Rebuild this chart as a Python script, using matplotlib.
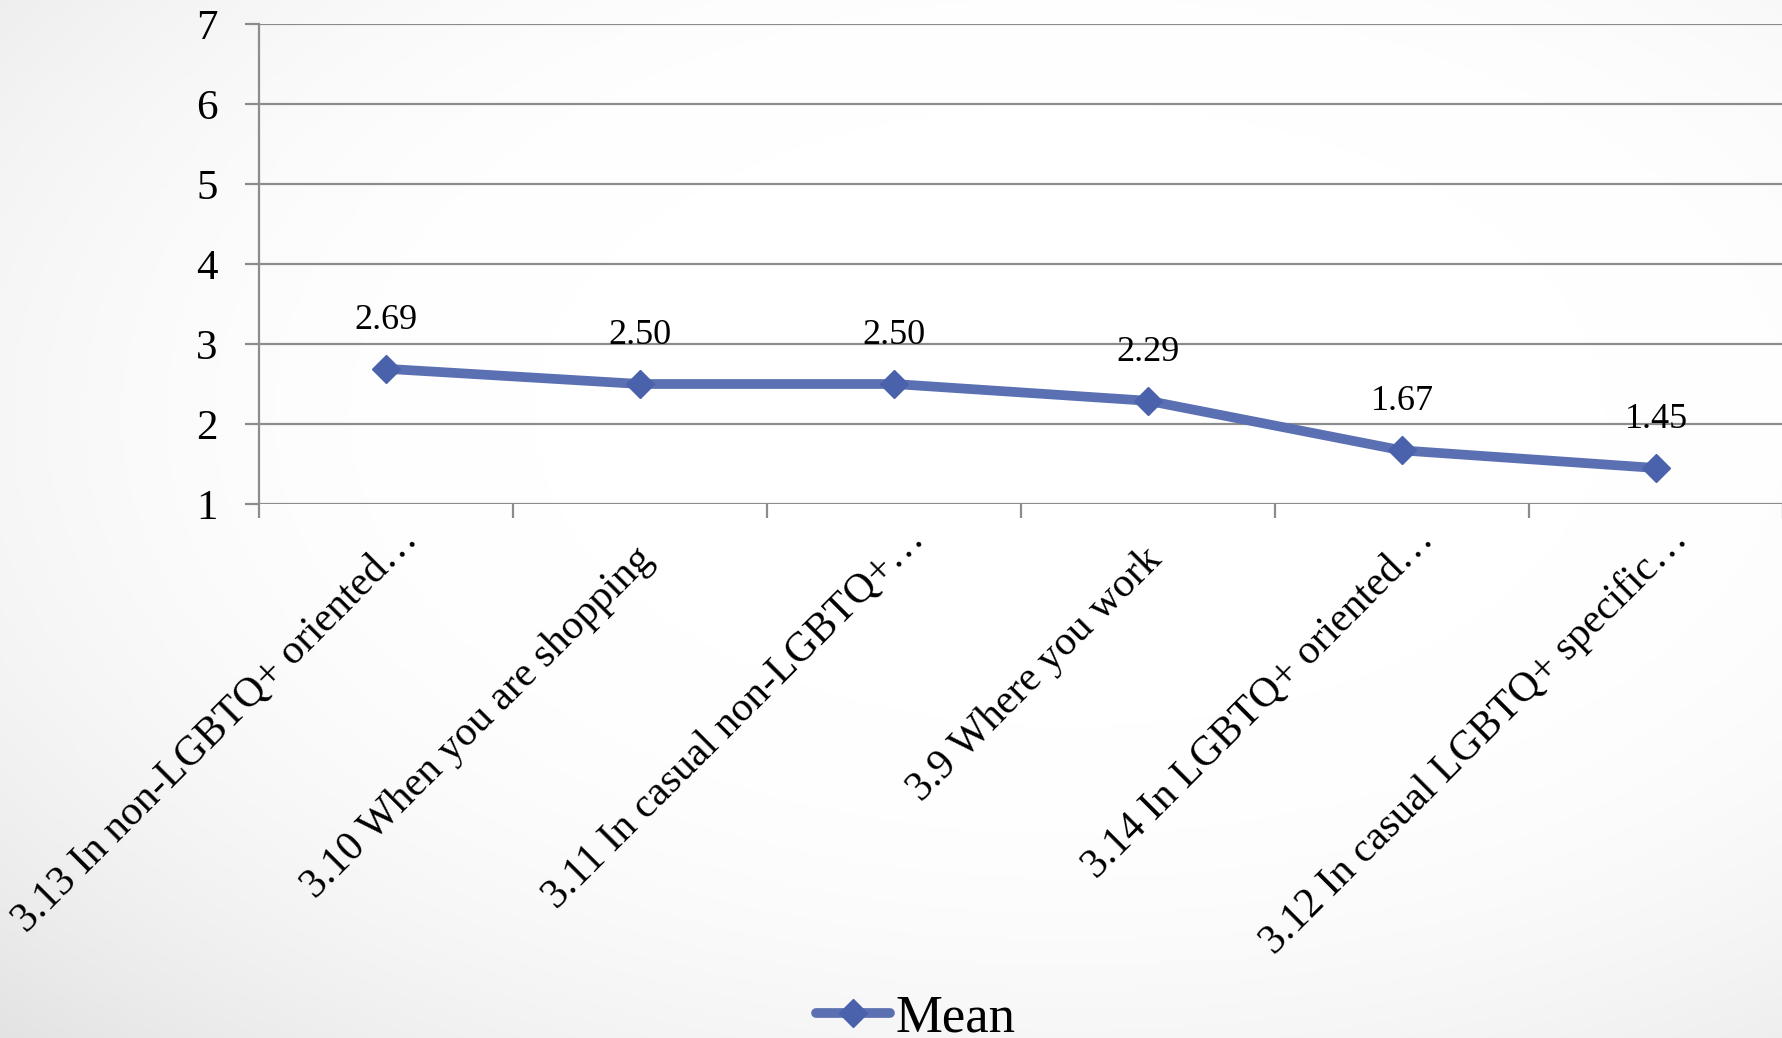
import numpy as np
import matplotlib
matplotlib.use("Agg")
import matplotlib.pyplot as plt
from matplotlib.lines import Line2D
from matplotlib.transforms import ScaledTranslation

categories = ["3.13 In non-LGBTQ+ oriented…", "3.10 When you are shopping",
              "3.11 In casual non-LGBTQ+…", "3.9 Where you work",
              "3.14 In LGBTQ+ oriented…", "3.12 In casual LGBTQ+ specific…"]
means = [2.69, 2.50, 2.50, 2.29, 1.67, 1.45]
yticks = [1, 2, 3, 4, 5, 6, 7]
series_name = "Mean"

plt.rcParams['font.family'] = ['Liberation Serif', 'DejaVu Serif']

W, H, DPI = 1783, 1038, 100
fig = plt.figure(figsize=(W / DPI, H / DPI), dpi=DPI)

# background radial gradient
bg = fig.add_axes([0, 0, 1, 1], zorder=-10)
yy, xx = np.mgrid[0:1:300j, 0:1:500j]
r = np.sqrt((xx - 0.6) ** 2 + (yy - 0.6) ** 2)
t = np.clip((r - 0.3) / 0.55, 0, 1)
val = 1 - 0.11 * t ** 2
img = np.dstack([val, val, val])
bg.imshow(img, extent=[0, 1, 0, 1], origin='lower', aspect='auto')
bg.set_axis_off()

ax = fig.add_axes([259 / W, 1 - 504 / H, 1 - 259 / W, (504 - 24) / H])
ax.patch.set_alpha(0)

x = np.arange(len(categories))
line_color = '#5b70b3'
marker_color = '#4962ab'
ax.plot(x, means, color=line_color, lw=7, solid_capstyle='round', zorder=3)
ax.plot(x, means, ls='none', marker='D', ms=14.5, mfc=marker_color, mec=marker_color, zorder=4)

for xi, v in zip(x, means):
    ax.annotate(f"{v:.2f}", (xi, v), xytext=(0, 35), textcoords='offset points',
                ha='center', va='center', fontsize=26, color='black')

ax.set_xlim(-0.5, len(categories) - 0.5)
ax.set_ylim(1, 7)
ax.set_yticks(yticks)
ax.set_yticklabels([str(v) for v in yticks], fontsize=31)
ax.yaxis.grid(True, color='#8c8c8c', lw=1.6)
ax.set_axisbelow(True)
ax.tick_params(axis='y', length=10, width=1.6, color='#8c8c8c', pad=20)

ax.set_xticks(x)
ax.set_xticklabels(categories, fontsize=30, rotation=45, ha='right',
                   rotation_mode='anchor')
ax.tick_params(axis='x', which='major', length=0, pad=26)
for lab in ax.get_xticklabels():
    dx, dy = -6, 0
    if lab.get_text().endswith("…"):
        dx, dy = dx + 18, dy + 20
    lab.set_transform(lab.get_transform() +
                      ScaledTranslation(dx / DPI, dy / DPI, fig.dpi_scale_trans))
ax.set_xticks(np.arange(-0.5, len(categories), 1), minor=True)
ax.tick_params(axis='x', which='minor', length=10, width=1.6, color='#8c8c8c')

for s in ['top', 'right', 'bottom']:
    ax.spines[s].set_visible(False)
ax.spines['left'].set_color('#8c8c8c')
ax.spines['left'].set_linewidth(1.6)
ax.spines['left'].set_bounds(1, 7)

handle = Line2D([], [], color=line_color, lw=7, marker='D', ms=14.5,
                mfc=marker_color, mec=marker_color, solid_capstyle='round')
fig.legend([handle], [series_name], loc='center', bbox_to_anchor=(916 / W, 1 - 1018 / H),
           frameon=False, fontsize=38, handlelength=1.4, handletextpad=0.1)

fig.savefig('out.png', dpi=DPI)
